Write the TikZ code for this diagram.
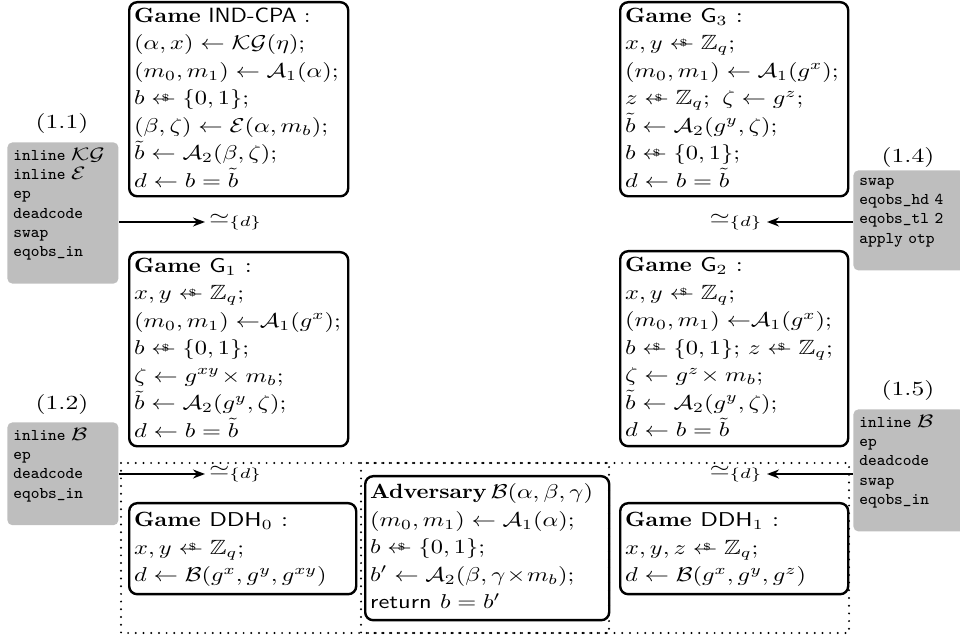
\documentclass[tikz,border=0pt]{standalone}
\usepackage{amsmath,amssymb,graphicx}
\usetikzlibrary{arrows.meta}
\definecolor{boxgray}{RGB}{190,190,190}
\newcommand\sx[1]{\scalebox{1.22}[1]{#1}}
\newcommand\lx[1]{\scalebox{1.28}[1]{#1}}
\newcommand\ttl[1]{\scalebox{0.9}[1]{#1}}
\newcommand\rnd{\mathrel{\mbox{\ooalign{$\leftarrow$\cr\hidewidth\kern1.5pt\raisebox{1.6pt}{$\scriptscriptstyle\$$}\hidewidth\cr}}}}
\newcommand\tu{{\char95}}
\newcommand\pmath[1]{{\fontsize{9.5}{9.5}\selectfont\lx{$\smash{#1}$}}}
\begin{document}
\begin{tikzpicture}[x=0.5pt,y=-0.5pt,
  game/.style={draw, line width=1.2pt, rounded corners=4pt, anchor=north west,
    inner xsep=2.5pt, inner ysep=0.4pt, align=left, font=\fontsize{10.3}{13.75}\selectfont},
  proof/.style={fill=boxgray, rounded corners=2.5pt, anchor=north west, inner xsep=3pt, inner ysep=4pt,
    text width=49.5pt, minimum width=55.5pt, align=left, font=\fontsize{8.2}{9.6}\selectfont\ttfamily},
  lbl/.style={font=\fontsize{10}{12}\selectfont, inner sep=0pt},
  eqv/.style={font=\fontsize{10}{12}\selectfont, inner sep=2pt, anchor=west},
  arr/.style={-{Stealth[length=6pt,width=4.5pt]}, line width=0.9pt},
  dots/.style={line width=1.1pt, dash pattern=on 0pt off 3.85pt, line cap=round}]
\useasboundingbox (0,0) rectangle (960,636);

% dotted regions
\draw[dots] (121,463) rectangle (609,633);
\draw[dots] (361,463) rectangle (849,633);

% game boxes
\node[game, text width=104.5pt, minimum width=109.5pt, minimum height=95.5pt] (indcpa) at (128,1)
 {\sx{\begin{tabular}{@{}l@{}}
 \ttl{\textbf{Game} \textsf{IND-CPA} :}\\
 $(\alpha,x)\leftarrow\mathcal{KG}(\eta);$\\
 $(m_0,m_1)\leftarrow\mathcal{A}_1(\alpha);$\\
 $b\rnd\{0,1\};$\\
 $(\beta,\zeta)\leftarrow\mathcal{E}(\alpha,m_b);$\\
 $\tilde{b}\leftarrow\mathcal{A}_2(\beta,\zeta);$\\
 $d\leftarrow b=\tilde{b}$
 \end{tabular}}};

\node[game, text width=109pt, minimum width=114pt, minimum height=96pt] (gthree) at (619,1)
 {\sx{\begin{tabular}{@{}l@{}}
 \ttl{\textbf{Game}} $\mathsf{G}_3$ :\\
 $x,y\rnd\mathbb{Z}_q;$\\
 $(m_0,m_1)\leftarrow\mathcal{A}_1(g^x);$\\
 $z\rnd\mathbb{Z}_q;\ \zeta\leftarrow g^z;$\\
 $\tilde{b}\leftarrow\mathcal{A}_2(g^y,\zeta);$\\
 $b\rnd\{0,1\};$\\
 $d\leftarrow b=\tilde{b}$
 \end{tabular}}};

\node[game, text width=104.5pt, minimum width=109.5pt, minimum height=97pt] (gone) at (128,251)
 {\sx{\begin{tabular}{@{}l@{}}
 \ttl{\textbf{Game}} $\mathsf{G}_1$ :\\
 $x,y\rnd\mathbb{Z}_q;$\\
 $(m_0,m_1)\;{\leftarrow}\mathcal{A}_1(g^x);$\\
 $b\rnd\{0,1\};$\\
 $\zeta\leftarrow g^{xy}\!\times m_b;$\\
 $\tilde{b}\leftarrow\mathcal{A}_2(g^y,\zeta);$\\
 $d\leftarrow b=\tilde{b}$
 \end{tabular}}};

\node[game, text width=109pt, minimum width=114pt, minimum height=97.5pt] (gtwo) at (619,250)
 {\sx{\begin{tabular}{@{}l@{}}
 \ttl{\textbf{Game}} $\mathsf{G}_2$ :\\
 $x,y\rnd\mathbb{Z}_q;$\\
 $(m_0,m_1)\;{\leftarrow}\mathcal{A}_1(g^x);$\\
 $b\rnd\{0,1\};\, z\rnd\mathbb{Z}_q;$\\
 $\zeta\leftarrow g^z\!\times m_b;$\\
 $\tilde{b}\leftarrow\mathcal{A}_2(g^y,\zeta);$\\
 $d\leftarrow b=\tilde{b}$
 \end{tabular}}};

\node[game, text width=108.5pt, minimum width=113.5pt, minimum height=45.5pt] (ddhzero) at (128,502)
 {\sx{\begin{tabular}{@{}l@{}}
 \ttl{\textbf{Game}} $\mathsf{DDH}_0$ :\\
 $x,y\rnd\mathbb{Z}_q;$\\
 $d\leftarrow\mathcal{B}(g^x,g^y,g^{xy})$
 \end{tabular}}};

\node[game, text width=117pt, minimum width=122pt, minimum height=72pt] (adv) at (364,475)
 {\sx{\begin{tabular}{@{}l@{}}
 \ttl{\textbf{Adversary}}\,$\mathcal{B}(\alpha,\beta,\gamma)$\\
 $(m_0,m_1)\leftarrow\mathcal{A}_1(\alpha);$\\
 $b\rnd\{0,1\};$\\
 $b'\leftarrow\mathcal{A}_2(\beta,\gamma\!\times\! m_b);$\\
 $\mathsf{return}\ b=b'$
 \end{tabular}}};

\node[game, text width=109pt, minimum width=114pt, minimum height=45.5pt] (ddhone) at (619,502)
 {\sx{\begin{tabular}{@{}l@{}}
 \ttl{\textbf{Game}} $\mathsf{DDH}_1$ :\\
 $x,y,z\rnd\mathbb{Z}_q;$\\
 $d\leftarrow\mathcal{B}(g^x,g^y,g^z)$
 \end{tabular}}};

% proof-step boxes
\node[proof] (pa) at (7,142) {inline \pmath{\mathcal{KG}}\\inline \pmath{\mathcal{E}}\\ep\\deadcode\\swap\\eqobs\tu in\\\mbox{}};
\node[proof] (pb) at (7,422) {inline \pmath{\mathcal{B}}\\ep\\deadcode\\eqobs\tu in\\\mbox{}};
\node[proof] (pc) at (853,170) {swap\\eqobs\tu hd 4\\eqobs\tu tl 2\\apply otp\\\mbox{}};
\node[proof] (pd) at (853,409) {inline \pmath{\mathcal{B}}\\ep\\deadcode\\swap\\eqobs\tu in\\\mbox{}};

% step labels
\node[lbl] (la) at (62,124) {\lx{(1.1)}};
\node[lbl] (lb) at (62,405) {\lx{(1.2)}};
\node[lbl] (lc) at (908,158) {\lx{(1.4)}};
\node[lbl] (ld) at (908,391) {\lx{(1.5)}};

% equivalence labels
\node[eqv] (ea) at (205,222) {\lx{$\simeq_{\{d\}}$}};
\node[eqv] (eb) at (205,474) {\lx{$\simeq_{\{d\}}$}};
\node[eqv, anchor=east] (ec) at (767,222) {\lx{$\simeq_{\{d\}}$}};
\node[eqv, anchor=east] (ed) at (767,474) {\lx{$\simeq_{\{d\}}$}};

% arrows
\draw[arr] (pa.east |- ea.west) -- (ea.west);
\draw[arr] (pb.east |- eb.west) -- (eb.west);
\draw[arr] (pc.west |- ec.east) -- (ec.east);
\draw[arr] (pd.west |- ed.east) -- (ed.east);
\end{tikzpicture}
\end{document}
